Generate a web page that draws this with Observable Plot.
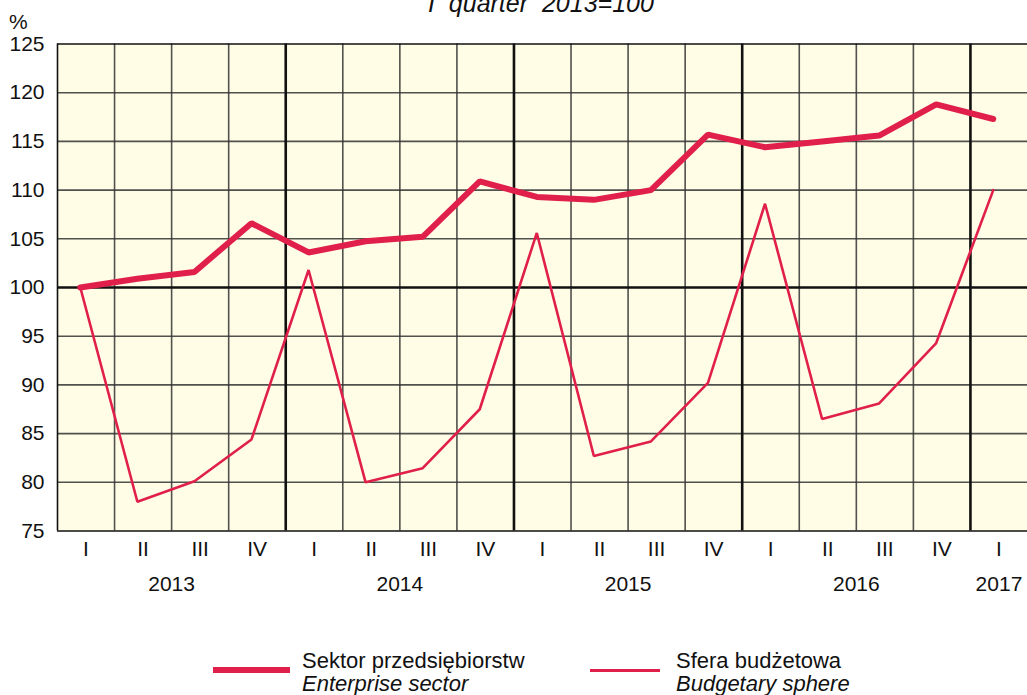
<!DOCTYPE html>
<html><head><meta charset="utf-8">
<script src="https://cdn.jsdelivr.net/npm/d3@7"></script>
<script src="https://cdn.jsdelivr.net/npm/@observablehq/plot@0.6"></script>
<style>
body{margin:0;background:#fff;font-family:"Liberation Sans",Arial,sans-serif;}
#wrap{position:relative;width:1027px;height:695px;overflow:hidden;}
#wrap svg{position:absolute;left:0;top:0;}
.t{position:absolute;white-space:nowrap;color:#111;font-size:22px;line-height:23px;}
.sw{position:absolute;background:#e0204b;}
</style></head><body><div id="wrap"></div>
<script>
const quarters = ["I","II","III","IV","I","II","III","IV","I","II","III","IV","I","II","III","IV","I"];
const quarterYear = [2013,2013,2013,2013,2014,2014,2014,2014,2015,2015,2015,2015,2016,2016,2016,2016,2017];
const yearLabels = ["2013","2014","2015","2016","2017"];
const enterprise = [100, 100.9, 101.6, 106.6, 103.6, 104.75, 105.2, 110.9, 109.3, 109.0, 110.0, 115.7, 114.4, 115.0, 115.6, 118.8, 117.3];
const budget = [100, 78.0, 80.1, 84.4, 101.8, 80.0, 81.45, 87.5, 105.6, 82.7, 84.2, 90.2, 108.6, 86.5, 88.1, 94.3, 110.0];
const yTicks = [75, 80, 85, 90, 95, 100, 105, 110, 115, 120, 125];
const seriesNames = [["Sektor przedsiębiorstw", "Enterprise sector"], ["Sfera budżetowa", "Budgetary sphere"]];
const titleText = "I quarter 2013=100";
const red = "#e0204b";

const n = quarters.length;
const data = quarters.map((q, i) => ({i, q, year: quarterYear[i], ent: enterprise[i], bud: budget[i]}));
const pointX = d => d.i + 0.4;
const labelX = d => d.i + 0.5;
const years = yearLabels.map(y => ({y, x: d3.mean(data.filter(d => String(d.year) === y), labelX)}));
const gridX = d3.range(1, n);
const yearBounds = gridX.filter(k => quarterYear[k] !== quarterYear[k - 1]);
const minorX = gridX.filter(k => !yearBounds.includes(k));
const font = "'Liberation Sans', Arial, sans-serif";

const chart = Plot.plot({
  width: 1027, height: 695,
  marginLeft: 57, marginRight: 0, marginTop: 43.5, marginBottom: 164.5,
  x: {domain: [0, n], axis: null},
  y: {domain: [75, 125], axis: null},
  style: {fontFamily: font, fontSize: "21px", color: "#111", background: "transparent", overflow: "visible"},
  marks: [
    Plot.frame({fill: "#fffde6", stroke: null}),
    Plot.ruleY(yTicks.filter(v => v !== 100 && v !== 75 && v !== 125), {stroke: "#333", strokeWidth: 1.6, strokeOpacity: 0.85}),
    Plot.ruleX(minorX, {stroke: "#333", strokeWidth: 1.6, strokeOpacity: 0.85}),
    Plot.ruleX(yearBounds, {stroke: "#111", strokeWidth: 2.6}),
    Plot.ruleY([100], {stroke: "#111", strokeWidth: 2.6}),
    Plot.ruleY([75, 125], {stroke: "#111", strokeWidth: 1.6}),
    Plot.ruleX([0], {stroke: "#111", strokeWidth: 1.6}),
    Plot.line(data, {x: pointX, y: "bud", stroke: red, strokeWidth: 2.6, strokeLinejoin: "miter"}),
    Plot.line(data, {x: pointX, y: "ent", stroke: red, strokeWidth: 6, strokeLinejoin: "miter"}),
    Plot.axisY(yTicks, {tickSize: 0, tickPadding: 13, fontSize: 21}),
    Plot.text(data, {x: labelX, text: "q", frameAnchor: "bottom", dy: 24.5, fontSize: 21}),
    Plot.text(years, {x: "x", text: "y", frameAnchor: "bottom", dy: 59.5, fontSize: 21})
  ]
});
const wrap = document.getElementById("wrap");
wrap.appendChild(chart);

function addText(html, left, top, extra) {
  const d = document.createElement("div");
  d.className = "t"; d.innerHTML = html;
  d.style.left = left + "px"; d.style.top = top + "px";
  if (extra) Object.assign(d.style, extra);
  wrap.appendChild(d);
}
addText(titleText.replace(/ /g, "&nbsp;&nbsp;"), 428, -8, {fontStyle: "italic", fontSize: "25px"});
addText("%", 9, 9.5, {fontSize: "21px"});
function swatch(left, top, w, h) {
  const s = document.createElement("div");
  s.className = "sw"; Object.assign(s.style, {left: left + "px", top: top + "px", width: w + "px", height: h + "px"});
  wrap.appendChild(s);
}
swatch(213, 667, 77, 6);
swatch(590, 669, 70, 2.6);
addText(seriesNames[0][0] + "<br><i>" + seriesNames[0][1] + "</i>", 302, 648.5);
addText(seriesNames[1][0] + "<br><i>" + seriesNames[1][1] + "</i>", 676, 648.5);
</script></body></html>
